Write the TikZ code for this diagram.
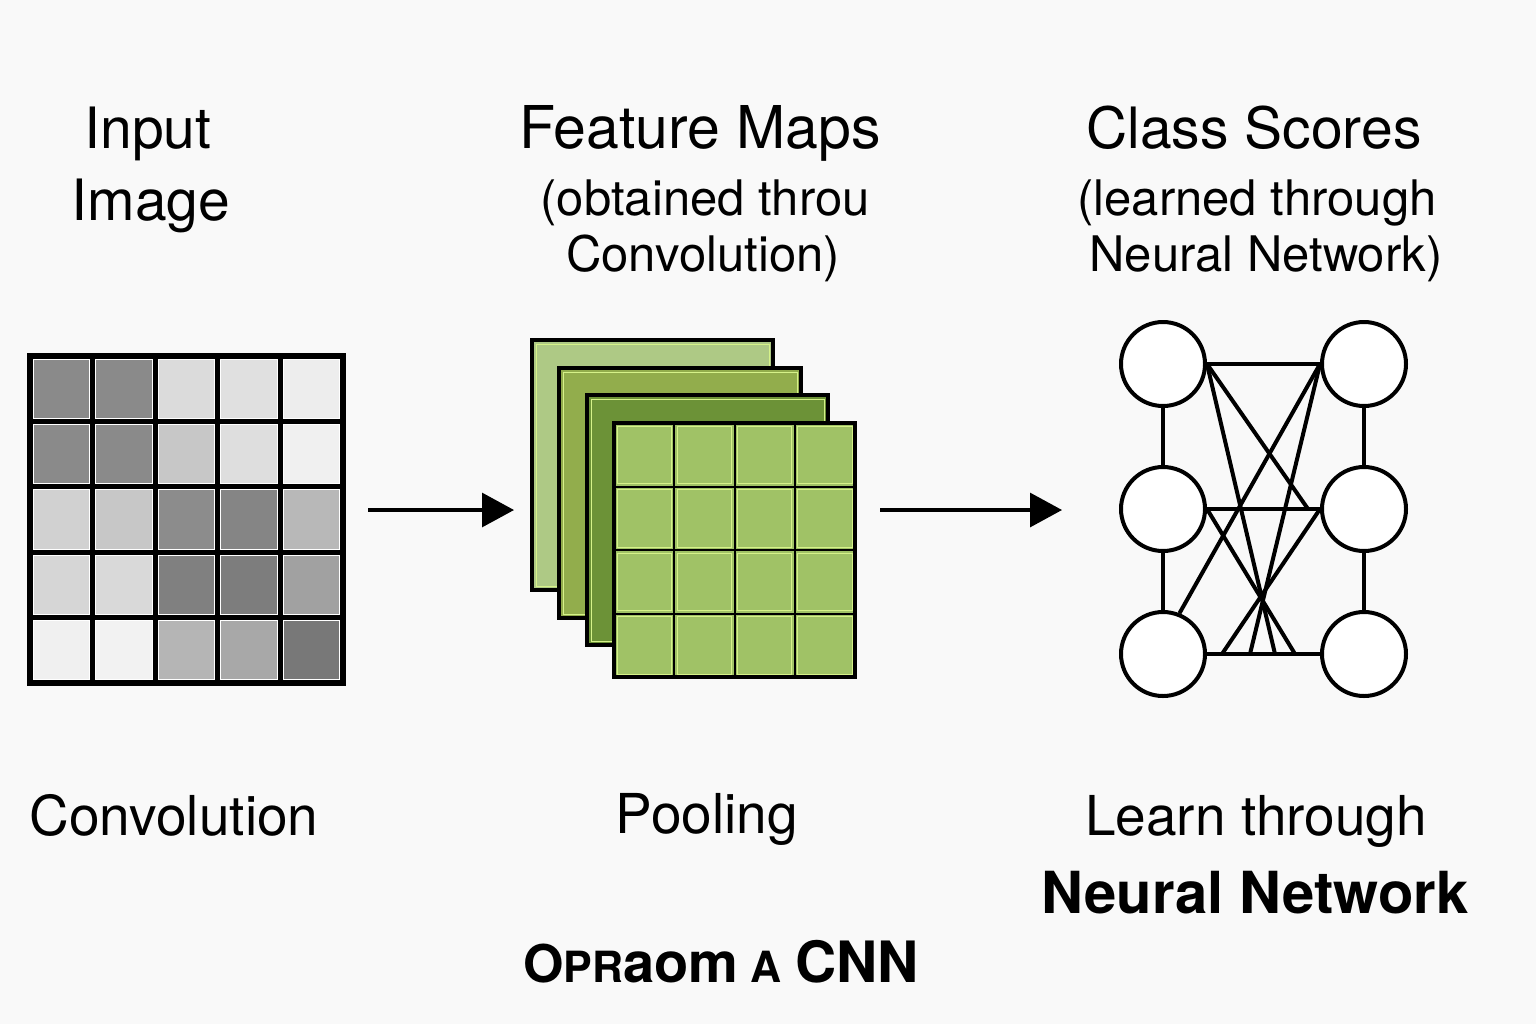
\documentclass[tikz,border=0pt]{standalone}
\usepackage{fontspec}
\setmainfont{TeX Gyre Heros}
\usetikzlibrary{arrows.meta}
\definecolor{bgc}{HTML}{F9F9F9}
\definecolor{fmA}{HTML}{AEC985}
\definecolor{fmB}{HTML}{92AD4C}
\definecolor{fmC}{HTML}{6C9237}
\definecolor{fmD}{HTML}{A0C266}
\definecolor{fmHi}{HTML}{D6F28A}
\tikzset{
  ttl/.style={font=\fontsize{28.5}{34}\selectfont, anchor=base},
  sub/.style={font=\fontsize{24.5}{30}\selectfont, anchor=base},
  lbl/.style={font=\fontsize{27.5}{33}\selectfont, anchor=base},
  neuron/.style={circle, draw=black, line width=2pt, fill=white, minimum size=42pt, inner sep=0pt},
  conn/.style={line width=2pt},
  flow/.style={line width=1.6pt, -{Triangle[length=16pt, width=17pt]}},
  maplayer/.style={draw=black, line width=2pt},
}
\begin{document}
\begin{tikzpicture}[x=0.5pt, y=-0.5pt]
\useasboundingbox (0,0) rectangle (1536,1024);
\fill[bgc] (0,0) rectangle (1536,1024);

% ---------- Titles ----------
\node[ttl] (tInput) at (148,148) {Input};
\node[ttl] (tImage) at (151,220) {Image};
\node[ttl, font=\fontsize{29.5}{35}\selectfont] (tFeat) at (700,148) {Feature Maps};
\node[sub] (tObt) at (705,215) {(obtained throu};
\node[sub] (tConvP) at (703,271) {Convolution)};
\node[ttl] (tClass) at (1254,148) {Class Scores};
\node[sub] (tLearned) at (1257,215) {(learned through};
\node[sub] (tNeuralP) at (1266,271) {Neural Network)};

% ---------- Input image grid ----------
\def\gx{30}\def\gy{356}\def\gw{62.6}\def\gh{65.4}
\foreach \v [count=\i from 0] in {54,54,86,88,93, 54,54,78,87,94, 82,78,55,52,72, 84,85,50,49,63, 94,95,71,66,47}{
  \pgfmathtruncatemacro{\cc}{mod(\i,5)}
  \pgfmathtruncatemacro{\rr}{int(\i/5)}
  \fill[white!\v!black] ({\gx+\cc*\gw},{\gy+\rr*\gh}) rectangle ++(\gw,\gh);
  \draw[white, line width=0.6pt] ({\gx+\cc*\gw+3},{\gy+\rr*\gh+3}) rectangle ++({\gw-6},{\gh-6});
}
\foreach \k in {1,...,4}{
  \draw[line width=2.4pt] ({\gx+\k*\gw},\gy) -- ({\gx+\k*\gw},{\gy+5*\gh});
  \draw[line width=2.4pt] (\gx,{\gy+\k*\gh}) -- ({\gx+5*\gw},{\gy+\k*\gh});
}
\draw[line width=2.6pt] (\gx,\gy) rectangle ({\gx+5*\gw},{\gy+5*\gh});

% ---------- Feature maps ----------
\foreach \xa/\ya/\xb/\yb/\col in {532/340/773/590/fmA, 559/368/801/618/fmB, 587/395/828/645/fmC}{
  \fill[\col] (\xa,\ya) rectangle (\xb,\yb);
  \draw[fmHi, line width=0.5pt] (\xa+4,\ya+4) rectangle (\xb-4,\yb-4);
  \draw[maplayer] (\xa,\ya) rectangle (\xb,\yb);
}
\def\fx{614}\def\fy{423}\def\fw{60.25}\def\fh{63.5}
\fill[fmD] (\fx,\fy) rectangle ({\fx+4*\fw},{\fy+4*\fh});
\foreach \i in {0,...,3}{
  \foreach \j in {0,...,3}{
    \draw[fmHi, line width=0.5pt] ({\fx+\i*\fw+3},{\fy+\j*\fh+3}) rectangle ++({\fw-6},{\fh-6});
  }
}
\foreach \k in {1,2,3}{
  \draw[line width=1pt] ({\fx+\k*\fw},\fy) -- ({\fx+\k*\fw},{\fy+4*\fh});
  \draw[line width=1pt] (\fx,{\fy+\k*\fh}) -- ({\fx+4*\fw},{\fy+\k*\fh});
}
\draw[maplayer] (\fx,\fy) rectangle ({\fx+4*\fw},{\fy+4*\fh});

% ---------- Arrows ----------
\coordinate (a1s) at (368,510);
\coordinate (a1e) at (514,510);
\coordinate (a2s) at (880,510);
\coordinate (a2e) at (1062,510);
\draw[flow] (a1s) -- (a1e);
\draw[flow] (a2s) -- (a2e);

% ---------- Neural network ----------
\node[neuron] (L1) at (1163,364) {};
\node[neuron] (L2) at (1163,509) {};
\node[neuron] (L3) at (1163,654) {};
\node[neuron] (R1) at (1364,364) {};
\node[neuron] (R2) at (1364,509) {};
\node[neuron] (R3) at (1364,654) {};
\coordinate (m1) at (1308,509);
\coordinate (b1) at (1275,654);
\coordinate (b2) at (1250,654);
\coordinate (b3) at (1295,654);
\coordinate (b4) at (1222,654);
\draw[conn] (L1) -- (L2);
\draw[conn] (L2) -- (L3);
\draw[conn] (R1) -- (R2);
\draw[conn] (R2) -- (R3);
\draw[conn] (L1) -- (R1);
\draw[conn] (L2) -- (R2);
\draw[conn] (L3) -- (R3);
\draw[conn] (L1.east) -- (m1);
\draw[conn] (L1.east) -- (b1);
\draw[conn] (R1.west) -- (L3.68);
\draw[conn] (R1.west) -- (b2);
\draw[conn] (L2.east) -- (b3);
\draw[conn] (R2.west) -- (b4);

% ---------- Bottom labels ----------
\node[lbl] (bConv) at (174,835) {Convolution};
\node[lbl] (bPool) at (707,833) {Pooling};
\node[lbl] (bLearn) at (1256,835) {Learn through};
\node[font=\fontsize{29}{35}\selectfont\bfseries, anchor=base] (bNeural) at (1255,913) {Neural Network};
\node[font=\bfseries, anchor=base] (bTitle) at (721,982) {{\fontsize{26}{31}\selectfont O}{\fontsize{21.5}{26}\selectfont PR}{\fontsize{28}{34}\selectfont aom}\hspace{6pt}{\fontsize{21.5}{26}\selectfont A}\hspace{7pt}{\fontsize{28.5}{34}\selectfont CNN}};
\end{tikzpicture}
\end{document}
